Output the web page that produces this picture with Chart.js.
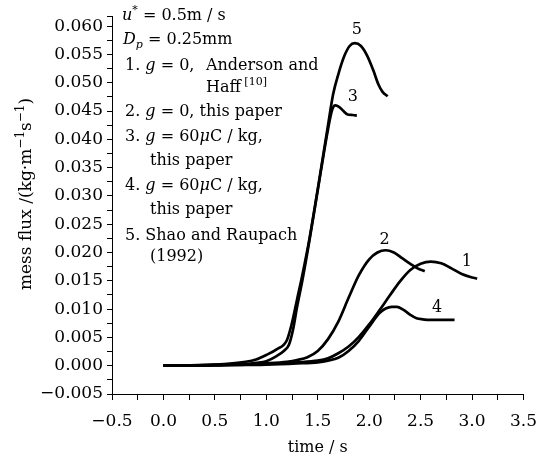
<!DOCTYPE html>
<html>
<head>
<meta charset="utf-8">
<script src="https://cdn.jsdelivr.net/npm/chart.js@4"></script>
<style>
  html, body { margin: 0; padding: 0; background: #fff; }
  #wrap { width: 548px; height: 459px; }
</style>
</head>
<body>
<div id="wrap"><canvas id="c" width="548" height="459"></canvas></div>
<script>
// curve 1: g=0, Anderson and Haff
const t1 = [0, 0.5, 1.0, 1.3, 1.5, 1.6, 1.7, 1.8, 1.9, 2.0, 2.1, 2.2, 2.3, 2.4, 2.5, 2.6, 2.7, 2.8, 2.9, 3.0, 3.05];
const q1 = [0, 0.0001, 0.0003, 0.0006, 0.0009, 0.0013, 0.0022, 0.0034, 0.0051, 0.0073, 0.0098, 0.0124, 0.0149, 0.0169, 0.0180, 0.0184, 0.0181, 0.0172, 0.0162, 0.0156, 0.0154];
// curve 2: g=0, this paper
const t2 = [0, 0.5, 0.8, 1.0, 1.2, 1.3, 1.4, 1.5, 1.6, 1.7, 1.8, 1.9, 2.0, 2.08, 2.16, 2.24, 2.32, 2.4, 2.47, 2.54];
const q2 = [0, 0.0001, 0.0002, 0.0004, 0.0007, 0.0010, 0.0015, 0.0026, 0.0047, 0.0078, 0.0120, 0.0160, 0.0188, 0.0200, 0.0204, 0.0200, 0.0190, 0.0180, 0.0172, 0.0167];
// curve 3: g=60uC/kg, this paper
const t3 = [0, 0.5, 0.8, 0.9, 1.0, 1.1, 1.17, 1.22, 1.26, 1.3, 1.35, 1.42, 1.5, 1.6, 1.64, 1.67, 1.71, 1.75, 1.79, 1.84, 1.88];
const q3 = [0, 0.0001, 0.0003, 0.0005, 0.0008, 0.0017, 0.0026, 0.0037, 0.0064, 0.0105, 0.0150, 0.0222, 0.0310, 0.0418, 0.0452, 0.0460, 0.0457, 0.0450, 0.0444, 0.0443, 0.0442];
// curve 4: g=60uC/kg, this paper
const t4 = [0, 0.5, 1.0, 1.3, 1.5, 1.6, 1.7, 1.8, 1.9, 2.0, 2.1, 2.16, 2.22, 2.27, 2.33, 2.4, 2.46, 2.52, 2.6, 2.7, 2.83];
const q4 = [0, 0.0001, 0.0002, 0.0004, 0.0006, 0.0009, 0.0014, 0.0026, 0.0044, 0.0069, 0.0093, 0.0101, 0.0104, 0.0104, 0.0099, 0.0090, 0.0084, 0.0082, 0.0081, 0.0081, 0.0081];
// curve 5: Shao and Raupach (1992)
const t5 = [0, 0.5, 0.8, 0.9, 1.0, 1.1, 1.2, 1.25, 1.3, 1.35, 1.42, 1.5, 1.6, 1.65, 1.7, 1.76, 1.81, 1.86, 1.92, 1.98, 2.04, 2.09, 2.13, 2.18];
const q5 = [0, 0.0002, 0.0007, 0.0011, 0.0019, 0.0029, 0.0045, 0.0076, 0.0118, 0.0160, 0.0225, 0.0312, 0.0425, 0.0480, 0.0515, 0.0548, 0.0565, 0.0570, 0.0565, 0.0548, 0.0522, 0.0497, 0.0484, 0.0476];

// curve numbers and where they sit (data units)
const curveNames = ['1', '2', '3', '4', '5'];
const curveNameT = [2.95, 2.15, 1.84, 2.66, 1.88];
const curveNameQ = [0.0184, 0.0222, 0.0475, 0.0103, 0.0594];

// axes
const xMajor = [-0.5, 0, 0.5, 1, 1.5, 2, 2.5, 3, 3.5];
const xLabels = ['\u22120.5', '0.0', '0.5', '1.0', '1.5', '2.0', '2.5', '3.0', '3.5'];
const xMinor = [-0.25, 0.25, 0.75, 1.25, 1.75, 2.25, 2.75, 3.25];
const yMajor = [-0.005, 0, 0.005, 0.01, 0.015, 0.02, 0.025, 0.03, 0.035, 0.04, 0.045, 0.05, 0.055, 0.06];
const yLabels = ['\u22120.005', '0.000', '0.005', '0.010', '0.015', '0.020', '0.025', '0.030', '0.035', '0.040', '0.045', '0.050', '0.055', '0.060'];
const yMinor = [-0.0025, 0.0025, 0.0075, 0.0125, 0.0175, 0.0225, 0.0275, 0.0325, 0.0375, 0.0425, 0.0475, 0.0525, 0.0575];
const yTop = 0.0618;

const serif = '"DejaVu Serif", "Liberation Serif", serif';

function series(t, q) {
  return {
    data: t.map((x, i) => ({ x: x, y: q[i] })),
    borderColor: '#000',
    borderWidth: 2.7,
    pointRadius: 0,
    fill: false,
    cubicInterpolationMode: 'monotone'
  };
}

function labelFor(list, labels) {
  return function (v) {
    const i = list.findIndex(m => Math.abs(m - v) < 1e-9);
    return i < 0 ? '' : labels[i];
  };
}

// draw a row of text pieces (plain / italic / sup / sub)
function runs(ctx, x, y, parts, big, small) {
  big = big || 16; small = small || 11;
  parts.forEach(p => {
    const size = (p.sup || p.sub) ? small : big;
    ctx.font = (p.it ? 'italic ' : '') + size + 'px ' + serif;
    const dy = p.sup ? -Math.round(big * 0.42) : (p.sub ? 4 : 0);
    ctx.fillText(p.s, x, y + dy);
    x += ctx.measureText(p.s).width;
  });
  return x;
}

function runsWidth(ctx, parts, big, small) {
  let w = 0;
  parts.forEach(p => {
    ctx.font = (p.it ? 'italic ' : '') + ((p.sup || p.sub) ? small : big) + 'px ' + serif;
    w += ctx.measureText(p.s).width;
  });
  return w;
}

const notes = {
  id: 'notes',
  afterDraw(chart) {
    const ctx = chart.ctx, xs = chart.scales.x, ys = chart.scales.y;
    ctx.save();
    ctx.fillStyle = '#000';

    // curve numbers
    ctx.font = '16px ' + serif;
    ctx.textAlign = 'center';
    ctx.textBaseline = 'middle';
    curveNames.forEach((s, i) => {
      ctx.fillText(s, xs.getPixelForValue(curveNameT[i]), ys.getPixelForValue(curveNameQ[i]));
    });

    // legend block
    ctx.textAlign = 'left';
    ctx.textBaseline = 'alphabetic';
    const x0 = 122, xi = 150, xh = 206;
    runs(ctx, x0, 20, [{ s: 'u', it: true }, { s: '*', sup: true }, { s: ' = 0.5m / s' }]);
    runs(ctx, x0 + 1, 44, [{ s: 'D', it: true }, { s: 'p', it: true, sub: true }, { s: ' = 0.25mm' }]);
    runs(ctx, x0 + 3, 70, [{ s: '1. ' }, { s: 'g', it: true }, { s: ' = 0,' }]);
    runs(ctx, xh, 70, [{ s: 'Anderson and' }]);
    runs(ctx, xh, 92, [{ s: 'Haff' }, { s: ' [10]', sup: true }]);
    runs(ctx, x0 + 3, 116, [{ s: '2. ' }, { s: 'g', it: true }, { s: ' = 0, this paper' }]);
    runs(ctx, x0 + 3, 141, [{ s: '3. ' }, { s: 'g', it: true }, { s: ' = 60' }, { s: '\u03bc', it: true }, { s: 'C / kg,' }]);
    runs(ctx, xi, 165, [{ s: 'this paper' }]);
    runs(ctx, x0 + 3, 190, [{ s: '4. ' }, { s: 'g', it: true }, { s: ' = 60' }, { s: '\u03bc', it: true }, { s: 'C / kg,' }]);
    runs(ctx, xi, 214, [{ s: 'this paper' }]);
    runs(ctx, x0 + 3, 240, [{ s: '5. Shao and Raupach' }]);
    runs(ctx, xi, 261, [{ s: '(1992)' }]);

    // y axis title, rotated
    const title = [{ s: 'mess flux /(kg\u00b7m' }, { s: '\u22121', sup: true }, { s: 's' }, { s: '\u22121', sup: true }, { s: ')' }];
    const w = runsWidth(ctx, title, 17, 12);
    ctx.translate(31, 194);
    ctx.rotate(-Math.PI / 2);
    runs(ctx, -w / 2, 0, title, 17, 12);
    ctx.restore();
  }
};

new Chart(document.getElementById('c'), {
  type: 'line',
  data: {
    datasets: [series(t1, q1), series(t2, q2), series(t3, q3), series(t4, q4), series(t5, q5)]
  },
  options: {
    responsive: false,
    animation: false,
    devicePixelRatio: 1,
    layout: { padding: { top: 16, right: 14, left: 0, bottom: 0 } },
    plugins: { legend: { display: false }, tooltip: { enabled: false } },
    scales: {
      x: {
        type: 'linear', min: -0.5, max: 3.5,
        afterBuildTicks: s => { s.ticks = xMajor.concat(xMinor).sort((a, b) => a - b).map(v => ({ value: v })); },
        afterFit: s => { s.height = 65; },
        ticks: { autoSkip: false, maxRotation: 0, padding: 11, color: '#000', font: { family: serif, size: 17 }, callback: labelFor(xMajor, xLabels) },
        grid: { drawOnChartArea: false, drawTicks: true, tickLength: 6, color: '#000', lineWidth: 1 },
        border: { display: true, color: '#000', width: 1 },
        title: { display: true, text: 'time / s', color: '#000', font: { family: serif, size: 16 }, padding: { top: 0, bottom: 2 } }
      },
      y: {
        type: 'linear', min: -0.005, max: yTop,
        afterBuildTicks: s => { s.ticks = yMajor.concat(yMinor, [yTop]).sort((a, b) => a - b).map(v => ({ value: v })); },
        afterFit: s => { s.width = 112; },
        ticks: { autoSkip: false, padding: 4, color: '#000', font: { family: serif, size: 17 }, callback: labelFor(yMajor, yLabels) },
        grid: { drawOnChartArea: false, drawTicks: true, tickLength: 5, color: '#000', lineWidth: 1 },
        border: { display: true, color: '#000', width: 1 }
      }
    }
  },
  plugins: [notes]
});
</script>
</body>
</html>
